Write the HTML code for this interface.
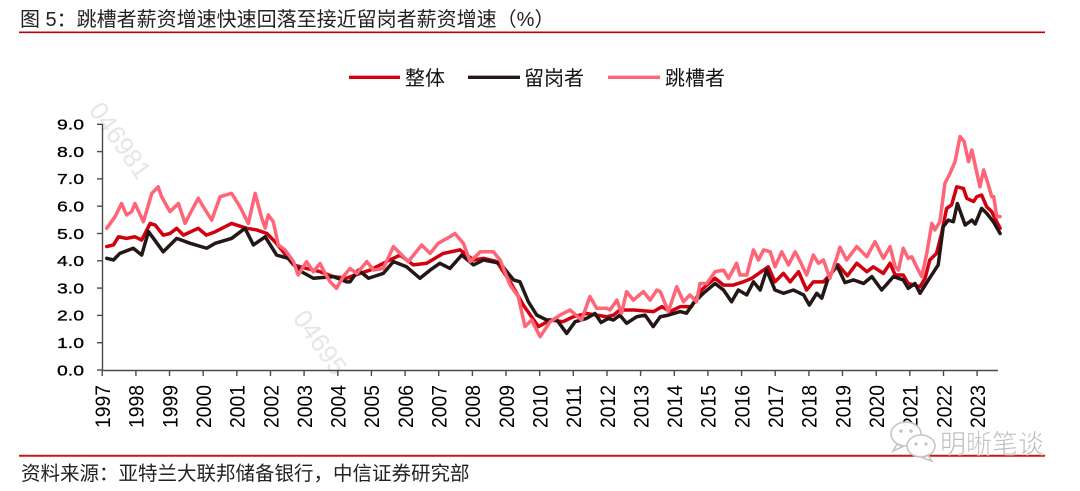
<!DOCTYPE html>
<html>
<head>
<meta charset="utf-8">
<style>
html,body{margin:0;padding:0;background:#fff;}
svg{display:block;}
.cj{font-family:"Liberation Sans","Noto Sans CJK SC",sans-serif;}
.ax{font-family:"Liberation Sans",sans-serif;fill:#000;}
</style>
</head>
<body>
<svg width="1080" height="491" viewBox="0 0 1080 491" xmlns="http://www.w3.org/2000/svg">
<rect width="1080" height="491" fill="#fff"/>

<!-- title -->
<text class="cj" x="20" y="26" font-size="20" fill="#222">图 5：跳槽者薪资增速快速回落至接近留岗者薪资增速（%）</text>
<line x1="19" y1="32.3" x2="1045" y2="32.3" stroke="#c00000" stroke-width="1.6"/>

<!-- watermarks -->
<text x="88" y="110" font-size="26" fill="#e6e6e6" font-family="Liberation Sans,sans-serif" transform="rotate(55 88 110)">046981</text>
<text x="292" y="318" font-size="26" fill="#e6e6e6" font-family="Liberation Sans,sans-serif" transform="rotate(55 292 318)">04695</text>

<!-- legend -->
<line x1="349" y1="77.3" x2="400" y2="77.3" stroke="#d2000f" stroke-width="3.4"/>
<text class="cj" x="405" y="85" font-size="20" fill="#111">整体</text>
<line x1="468" y1="77.3" x2="520" y2="77.3" stroke="#231815" stroke-width="3.4"/>
<text class="cj" x="524" y="85" font-size="20" fill="#111">留岗者</text>
<line x1="608" y1="77.3" x2="660" y2="77.3" stroke="#ff6577" stroke-width="3.4"/>
<text class="cj" x="665" y="85" font-size="20" fill="#111">跳槽者</text>

<!-- axes -->
<g stroke="#4a4a4a" stroke-width="1.4" fill="none">
<line x1="102.5" y1="124" x2="102.5" y2="370.5"/>
<line x1="102" y1="370.5" x2="998" y2="370.5"/>
<line x1="97" y1="124.3" x2="102.5" y2="124.3"/>
<line x1="97" y1="151.6" x2="102.5" y2="151.6"/>
<line x1="97" y1="178.9" x2="102.5" y2="178.9"/>
<line x1="97" y1="206.2" x2="102.5" y2="206.2"/>
<line x1="97" y1="233.5" x2="102.5" y2="233.5"/>
<line x1="97" y1="260.8" x2="102.5" y2="260.8"/>
<line x1="97" y1="288.1" x2="102.5" y2="288.1"/>
<line x1="97" y1="315.4" x2="102.5" y2="315.4"/>
<line x1="97" y1="342.7" x2="102.5" y2="342.7"/>
<line x1="97" y1="370" x2="102.5" y2="370"/>
<line x1="102.2" y1="370.5" x2="102.2" y2="376"/>
<line x1="135.9" y1="370.5" x2="135.9" y2="376"/>
<line x1="169.5" y1="370.5" x2="169.5" y2="376"/>
<line x1="203.2" y1="370.5" x2="203.2" y2="376"/>
<line x1="236.8" y1="370.5" x2="236.8" y2="376"/>
<line x1="270.5" y1="370.5" x2="270.5" y2="376"/>
<line x1="304.1" y1="370.5" x2="304.1" y2="376"/>
<line x1="337.8" y1="370.5" x2="337.8" y2="376"/>
<line x1="371.4" y1="370.5" x2="371.4" y2="376"/>
<line x1="405.1" y1="370.5" x2="405.1" y2="376"/>
<line x1="438.7" y1="370.5" x2="438.7" y2="376"/>
<line x1="472.4" y1="370.5" x2="472.4" y2="376"/>
<line x1="506.0" y1="370.5" x2="506.0" y2="376"/>
<line x1="539.7" y1="370.5" x2="539.7" y2="376"/>
<line x1="573.3" y1="370.5" x2="573.3" y2="376"/>
<line x1="607.0" y1="370.5" x2="607.0" y2="376"/>
<line x1="640.6" y1="370.5" x2="640.6" y2="376"/>
<line x1="674.3" y1="370.5" x2="674.3" y2="376"/>
<line x1="707.9" y1="370.5" x2="707.9" y2="376"/>
<line x1="741.6" y1="370.5" x2="741.6" y2="376"/>
<line x1="775.2" y1="370.5" x2="775.2" y2="376"/>
<line x1="808.9" y1="370.5" x2="808.9" y2="376"/>
<line x1="842.5" y1="370.5" x2="842.5" y2="376"/>
<line x1="876.2" y1="370.5" x2="876.2" y2="376"/>
<line x1="909.8" y1="370.5" x2="909.8" y2="376"/>
<line x1="943.5" y1="370.5" x2="943.5" y2="376"/>
<line x1="977.1" y1="370.5" x2="977.1" y2="376"/>
</g>

<!-- y labels -->
<g class="ax" font-size="15" text-anchor="end" stroke="#000" stroke-width="0.3">
<text x="84" y="129.6" textLength="27" lengthAdjust="spacingAndGlyphs">9.0</text>
<text x="84" y="156.9" textLength="27" lengthAdjust="spacingAndGlyphs">8.0</text>
<text x="84" y="184.2" textLength="27" lengthAdjust="spacingAndGlyphs">7.0</text>
<text x="84" y="211.5" textLength="27" lengthAdjust="spacingAndGlyphs">6.0</text>
<text x="84" y="238.8" textLength="27" lengthAdjust="spacingAndGlyphs">5.0</text>
<text x="84" y="266.1" textLength="27" lengthAdjust="spacingAndGlyphs">4.0</text>
<text x="84" y="293.4" textLength="27" lengthAdjust="spacingAndGlyphs">3.0</text>
<text x="84" y="320.7" textLength="27" lengthAdjust="spacingAndGlyphs">2.0</text>
<text x="84" y="348.0" textLength="27" lengthAdjust="spacingAndGlyphs">1.0</text>
<text x="84" y="375.3" textLength="27" lengthAdjust="spacingAndGlyphs">0.0</text>
</g>

<!-- x labels -->
<g class="ax" font-size="21.5">
<text transform="translate(110.0,428) rotate(-90)" textLength="43" lengthAdjust="spacingAndGlyphs">1997</text>
<text transform="translate(143.7,428) rotate(-90)" textLength="43" lengthAdjust="spacingAndGlyphs">1998</text>
<text transform="translate(177.3,428) rotate(-90)" textLength="43" lengthAdjust="spacingAndGlyphs">1999</text>
<text transform="translate(211.0,428) rotate(-90)" textLength="43" lengthAdjust="spacingAndGlyphs">2000</text>
<text transform="translate(244.6,428) rotate(-90)" textLength="43" lengthAdjust="spacingAndGlyphs">2001</text>
<text transform="translate(278.3,428) rotate(-90)" textLength="43" lengthAdjust="spacingAndGlyphs">2002</text>
<text transform="translate(311.9,428) rotate(-90)" textLength="43" lengthAdjust="spacingAndGlyphs">2003</text>
<text transform="translate(345.6,428) rotate(-90)" textLength="43" lengthAdjust="spacingAndGlyphs">2004</text>
<text transform="translate(379.2,428) rotate(-90)" textLength="43" lengthAdjust="spacingAndGlyphs">2005</text>
<text transform="translate(412.9,428) rotate(-90)" textLength="43" lengthAdjust="spacingAndGlyphs">2006</text>
<text transform="translate(446.5,428) rotate(-90)" textLength="43" lengthAdjust="spacingAndGlyphs">2007</text>
<text transform="translate(480.2,428) rotate(-90)" textLength="43" lengthAdjust="spacingAndGlyphs">2008</text>
<text transform="translate(513.8,428) rotate(-90)" textLength="43" lengthAdjust="spacingAndGlyphs">2009</text>
<text transform="translate(547.5,428) rotate(-90)" textLength="43" lengthAdjust="spacingAndGlyphs">2010</text>
<text transform="translate(581.1,428) rotate(-90)" textLength="43" lengthAdjust="spacingAndGlyphs">2011</text>
<text transform="translate(614.8,428) rotate(-90)" textLength="43" lengthAdjust="spacingAndGlyphs">2012</text>
<text transform="translate(648.4,428) rotate(-90)" textLength="43" lengthAdjust="spacingAndGlyphs">2013</text>
<text transform="translate(682.1,428) rotate(-90)" textLength="43" lengthAdjust="spacingAndGlyphs">2014</text>
<text transform="translate(715.7,428) rotate(-90)" textLength="43" lengthAdjust="spacingAndGlyphs">2015</text>
<text transform="translate(749.4,428) rotate(-90)" textLength="43" lengthAdjust="spacingAndGlyphs">2016</text>
<text transform="translate(783.0,428) rotate(-90)" textLength="43" lengthAdjust="spacingAndGlyphs">2017</text>
<text transform="translate(816.7,428) rotate(-90)" textLength="43" lengthAdjust="spacingAndGlyphs">2018</text>
<text transform="translate(850.3,428) rotate(-90)" textLength="43" lengthAdjust="spacingAndGlyphs">2019</text>
<text transform="translate(884.0,428) rotate(-90)" textLength="43" lengthAdjust="spacingAndGlyphs">2020</text>
<text transform="translate(917.6,428) rotate(-90)" textLength="43" lengthAdjust="spacingAndGlyphs">2021</text>
<text transform="translate(951.3,428) rotate(-90)" textLength="43" lengthAdjust="spacingAndGlyphs">2022</text>
<text transform="translate(984.9,428) rotate(-90)" textLength="43" lengthAdjust="spacingAndGlyphs">2023</text>
</g>

<!-- series -->
<g transform="matrix(33.65 0 0 -27.3 102 370)" fill="none" stroke-linejoin="round" stroke-linecap="round">
<polyline vector-effect="non-scaling-stroke" stroke="#d2000f" stroke-width="3.5" points="0.14,4.52 0.34,4.58 0.49,4.88 0.73,4.82 0.98,4.88 1.18,4.76 1.43,5.37 1.58,5.31 1.82,4.94 2.02,5.0 2.22,5.19 2.42,4.94 2.86,5.19 3.1,4.94 3.36,5.06 3.85,5.37 4.3,5.19 4.6,5.13 4.9,5.0 5.14,4.7 5.34,4.4 5.69,3.85 6.08,3.72 6.48,3.6 6.88,3.42 7.27,3.36 7.45,3.45 7.7,3.55 7.97,3.66 8.46,3.97 8.86,4.21 9.25,3.85 9.65,3.91 10.14,4.27 10.64,4.4 11.04,4.03 11.34,4.09 11.73,3.97 12.13,3.23 12.52,2.38 12.97,1.59 13.32,1.83 13.7,1.77 14.0,1.95 14.4,2.07 15.0,1.95 15.2,2.01 15.39,2.2 15.79,2.2 16.39,2.14 16.64,2.32 16.88,2.14 17.18,2.32 17.52,2.32 17.77,2.87 17.97,3.11 18.22,3.36 18.47,3.11 18.76,3.11 19.06,3.23 19.31,3.36 19.66,3.66 19.8,3.78 20.0,3.23 20.25,3.54 20.45,3.23 20.7,3.6 20.94,2.93 21.14,3.23 21.44,3.23 21.63,3.48 21.88,3.85 22.15,3.45 22.43,3.91 22.73,3.6 22.92,3.78 23.22,3.54 23.42,3.91 23.57,3.48 23.81,3.48 23.96,3.17 24.31,3.05 24.46,3.36 24.6,4.03 24.8,4.27 24.95,5.0 25.1,5.92 25.25,6.05 25.4,6.71 25.6,6.65 25.7,6.29 25.9,6.17 26.0,6.35 26.14,6.41 26.29,5.98 26.44,5.8 26.59,5.43 26.69,5.19"/>
<polyline vector-effect="non-scaling-stroke" stroke="#231815" stroke-width="3.5" points="0.14,4.09 0.34,4.03 0.53,4.27 0.93,4.46 1.18,4.21 1.38,5.07 1.53,4.82 1.82,4.33 2.22,4.82 2.62,4.64 3.11,4.46 3.36,4.64 3.85,4.82 4.25,5.19 4.5,4.58 4.85,4.88 5.19,4.21 5.53,4.09 5.93,3.6 6.28,3.36 6.88,3.42 7.27,3.23 7.37,3.23 7.62,3.66 7.92,3.36 8.36,3.54 8.66,3.97 9.05,3.78 9.45,3.36 9.75,3.66 10.04,3.91 10.34,3.72 10.69,4.21 11.04,3.85 11.34,4.03 11.83,3.91 12.23,3.3 12.42,3.23 12.67,2.5 12.92,2.01 13.22,1.83 13.52,1.83 13.81,1.34 14.06,1.77 14.4,1.89 14.65,2.07 14.83,1.74 15.05,1.89 15.2,1.83 15.39,2.01 15.59,1.71 15.89,1.95 16.14,2.01 16.38,1.59 16.59,1.95 16.83,2.01 17.18,2.14 17.37,2.08 17.57,2.44 17.87,2.81 18.22,3.17 18.47,2.93 18.71,2.5 18.91,2.93 19.16,2.75 19.36,3.23 19.56,2.93 19.75,3.66 20.0,2.93 20.25,2.81 20.55,2.93 20.85,2.75 21.02,2.38 21.24,2.81 21.39,2.63 21.58,3.36 21.83,3.85 22.08,3.2 22.33,3.3 22.63,3.17 22.88,3.42 23.17,2.93 23.52,3.42 23.81,3.3 23.96,2.99 24.16,3.17 24.31,2.81 24.56,3.3 24.85,3.85 25.0,5.25 25.15,5.49 25.3,5.43 25.42,6.1 25.65,5.31 25.85,5.49 25.95,5.35 26.14,5.92 26.29,5.74 26.49,5.43 26.69,5.0"/>
<polyline vector-effect="non-scaling-stroke" stroke="#ff6577" stroke-width="3.5" points="0.14,5.19 0.39,5.62 0.58,6.1 0.73,5.68 0.88,5.8 0.98,6.1 1.23,5.43 1.48,6.47 1.67,6.71 1.77,6.35 2.02,5.8 2.27,6.1 2.47,5.37 2.62,5.74 2.86,6.29 3.01,5.98 3.26,5.49 3.51,6.35 3.65,6.4 3.85,6.47 4.1,5.98 4.35,5.37 4.55,6.47 4.75,5.55 4.85,5.2 4.94,5.68 5.09,5.43 5.24,4.58 5.44,4.4 5.69,3.97 5.83,3.48 6.08,3.97 6.28,3.6 6.48,3.9 6.63,3.54 6.78,3.23 6.97,2.99 7.17,3.42 7.37,3.72 7.57,3.54 7.87,3.97 8.07,3.66 8.36,3.72 8.66,4.52 8.86,4.27 9.1,3.97 9.5,4.58 9.75,4.27 9.99,4.64 10.34,4.88 10.49,5.0 10.74,4.64 10.94,3.97 11.24,4.33 11.63,4.33 11.83,4.03 12.13,3.11 12.37,2.69 12.57,1.59 12.77,1.83 13.02,1.22 13.32,1.77 13.61,2.01 13.91,2.2 14.25,1.83 14.5,2.69 14.7,2.26 15.0,2.26 15.1,2.2 15.3,2.56 15.44,2.08 15.59,2.87 15.79,2.56 16.09,2.87 16.29,2.56 16.49,2.93 16.59,2.87 16.83,2.14 17.08,3.05 17.28,2.5 17.47,2.75 17.67,2.5 17.77,3.17 17.97,3.17 18.22,3.6 18.47,3.66 18.62,3.36 18.86,3.91 18.96,3.48 19.16,3.48 19.36,4.4 19.51,4.03 19.66,4.4 19.86,4.33 20.0,3.78 20.2,4.33 20.4,3.85 20.6,4.33 20.75,3.97 20.94,3.48 21.14,4.21 21.29,3.91 21.44,4.03 21.63,3.36 21.83,4.09 21.93,4.5 22.13,4.03 22.43,4.52 22.73,4.15 22.97,4.7 23.22,4.09 23.42,4.52 23.57,3.78 23.67,3.66 23.81,4.46 23.96,4.09 24.06,4.15 24.21,3.78 24.36,3.42 24.51,4.27 24.66,5.37 24.75,5.13 24.9,5.43 25.05,6.84 25.2,7.2 25.35,7.63 25.5,8.55 25.62,8.37 25.75,7.63 25.85,8.06 26.09,6.71 26.2,7.33 26.34,6.78 26.44,6.35 26.5,6.35 26.59,5.62 26.69,5.62"/>
</g>

<!-- bottom rule & source -->
<line x1="19" y1="455.7" x2="1045" y2="455.7" stroke="#c8161d" stroke-width="2"/>
<text class="cj" x="21" y="480" font-size="19.5" fill="#222">资料来源：亚特兰大联邦储备银行，中信证券研究部</text>

<!-- wechat watermark -->
<g fill="#fff" stroke="#c4c4c4" stroke-width="1.6" opacity="0.95">
<ellipse cx="906" cy="434" rx="15" ry="12"/>
<path d="M897 444 l-4 7 l9 -4z"/>
<ellipse cx="921" cy="446" rx="14" ry="11"/>
<path d="M928 455 l4 6 l-9 -3z"/>
</g>
<g fill="#c4c4c4">
<circle cx="901" cy="431" r="1.8"/><circle cx="911" cy="431" r="1.8"/>
<circle cx="916" cy="444" r="1.6"/><circle cx="926" cy="444" r="1.6"/>
</g>
<text class="cj" x="940" y="453" font-size="26" fill="#bdbdbd" stroke="#fff" stroke-width="0.6">明晰笔谈</text>
</svg>
</body>
</html>
